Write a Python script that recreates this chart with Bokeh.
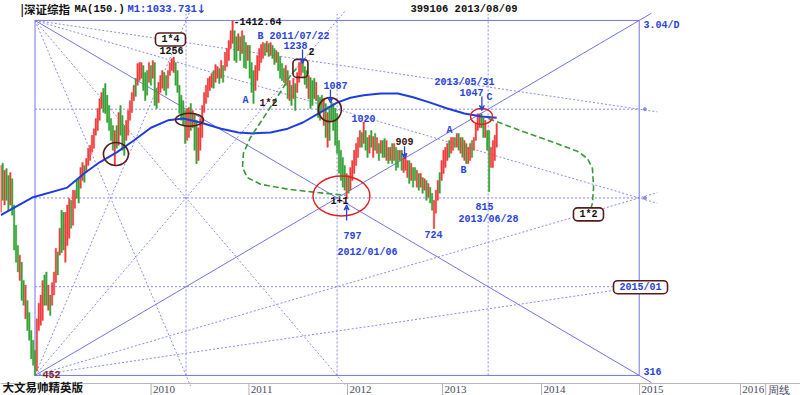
import numpy as np
from bokeh.plotting import figure
from bokeh.models import Range1d, Label, Arrow, VeeHead, ColumnDataSource
from bokeh.embed import file_html
from bokeh.resources import INLINE

# ---------------- data (weekly, trading-week index from mid 2008) ----------------
opens = [763, 893, 781, 878, 859, 781, 850, 781, 732, 686, 613, 650, 613, 542, 575, 553, 522, 506, 490, 459,
         522, 531, 539, 624, 630, 557, 585, 566, 585, 609, 672, 665, 768, 763, 650, 686, 702, 793, 732, 773,
         845, 850, 824, 845, 887, 867, 887, 901, 925, 937, 977, 992, 1025, 1065, 1136, 1154, 1111, 1075, 1031, 1008,
         887, 1008, 946, 1075, 1041, 1008, 961, 977, 1025, 1051, 1092, 1173, 1147, 1165, 1173, 1222, 1195, 1203, 1158, 1222,
         1173, 1234, 1136, 1085, 1121, 1136, 1195, 1184, 1136, 1184, 1203, 1195, 1234, 1203, 1147, 1111, 1092, 1058, 961, 970,
         1082, 1001, 1048, 1025, 901, 931, 970, 1051, 1082, 1104, 1128, 1139, 1203, 1158, 1173, 1211, 1173, 1222, 1203, 1218,
         1242, 1291, 1312, 1367, 1341, 1283, 1341, 1270, 1346, 1316, 1242, 1304, 1234, 1203, 1128, 1165, 1203, 1234, 1250, 1312,
         1275, 1312, 1262, 1304, 1291, 1234, 1275, 1258, 1230, 1211, 1147, 1203, 1092, 1147, 1099, 1154, 1121, 1158, 1184, 1238,
         1218, 1203, 1099, 1176, 1165, 1173, 1092, 1111, 1104, 1111, 1008, 1082, 940, 1065, 1087, 1082, 1065, 1048, 961, 931,
         910, 887, 797, 859, 819, 845, 864, 887, 910, 940, 986, 952, 992, 970, 922, 992, 910, 983, 922, 952,
         922, 961, 967, 901, 940, 901, 952, 901, 940, 931, 901, 931, 867, 873, 853, 901, 845, 881, 881, 827,
         864, 827, 853, 819, 845, 801, 827, 811, 724, 761, 793, 867, 845, 864, 881, 901, 961, 922, 931, 970,
         940, 983, 922, 970, 901, 952, 892, 901, 961, 931, 961, 992, 1001, 1047, 1034, 970, 992, 992, 881, 881,
         901, 940]
closes = [887, 793, 873, 793, 768, 867, 756, 676, 650, 630, 665, 575, 566, 604, 522, 506, 477, 467, 452, 542,
          570, 585, 613, 566, 566, 604, 548, 609, 630, 680, 624, 725, 670, 676, 763, 781, 798, 725, 819, 819,
          798, 786, 881, 895, 840, 907, 937, 946, 977, 998, 1031, 1065, 1099, 1121, 1051, 1048, 1018, 992, 961, 931,
          992, 937, 1051, 977, 931, 916, 1025, 1058, 1092, 1121, 1147, 1107, 1230, 1234, 1234, 1128, 1092, 1111, 1234, 1147,
          1242, 1075, 1065, 1158, 1184, 1203, 1128, 1111, 1203, 1234, 1250, 1256, 1147, 1121, 1048, 1025, 1008, 952, 1065, 1068,
          992, 1058, 931, 892, 1001, 1031, 1075, 1121, 1147, 1173, 1180, 1191, 1136, 1226, 1218, 1154, 1242, 1158, 1275, 1291,
          1325, 1367, 1412.64, 1242, 1234, 1354, 1242, 1367, 1214, 1211, 1304, 1173, 1121, 1082, 1222, 1262, 1291, 1308, 1316, 1262,
          1321, 1258, 1316, 1250, 1226, 1283, 1203, 1173, 1165, 1158, 1222, 1099, 1165, 1075, 1173, 1058, 1195, 1234, 1238, 1195,
          1150, 1136, 1184, 1065, 1075, 1099, 1158, 1034, 1025, 1058, 1099, 970, 1051, 961, 1025, 992, 946, 922, 865, 845,
          827, 819, 864, 811, 881, 901, 931, 952, 970, 992, 940, 1020, 931, 910, 977, 940, 973, 931, 970, 901,
          961, 910, 910, 961, 892, 940, 892, 952, 873, 881, 931, 873, 909, 922, 901, 837, 893, 827, 845, 873,
          819, 864, 811, 850, 793, 837, 786, 768, 793, 819, 845, 811, 901, 931, 940, 952, 910, 970, 970, 940,
          983, 931, 970, 910, 961, 892, 940, 952, 910, 970, 1015, 1047, 1047, 1001, 970, 1025, 931, 815, 940, 961,
          977, 1015]
weeks = list(range(len(opens)))

# 150-period moving average
ma_weeks = [0, 17, 35, 44, 52, 61, 70, 79, 88, 96, 105, 116, 125, 133, 142, 151, 159, 168, 177,
            184, 191, 200, 209, 217, 226, 235, 244, 253, 261]
ma_values = [756, 801, 826, 865, 896, 925, 961, 1001, 1025, 1031, 1018, 998, 986, 983, 986, 998, 1018,
             1051, 1085, 1102, 1111, 1117, 1117, 1104, 1085, 1065, 1048, 1038, 1033.731]

# Gann square: from the 2008 low to 2015/01 at the 2010 high
gann_start_week, gann_end_week = 18, 336
gann_low, gann_high = 452, 1412.64

# time axis (week index where each year starts)
year_labels = ["2010", "2011", "2012", "2013", "2014", "2015", "2016", "周线"]
year_starts = [79.1, 130.6, 182.5, 232.5, 284.6, 336.2, 389.3, 402.6]

# hand-drawn green projections (week, price)
curve1_weeks = [155.6, 152.5, 147.7, 138.3, 131.4, 127.7, 127.2, 129.8, 136.7, 150.9, 164.6, 181.4]
curve1_prices = [1211, 1184, 1128, 1034, 970, 922, 881, 853, 835, 822, 814, 806]
curve2_weeks = [256.7, 273.5, 290.9, 303.5, 308.8, 311.4, 312.0, 311.4, 309.8]
curve2_prices = [1031, 992, 955, 928, 907, 878, 827, 786, 759]

# ---------------- figure ----------------
W, H = 800, 395
XR = (-0.16, 420.9)
YR = (423.8, 1506.0)
p = figure(width=W, height=H, x_range=Range1d(*XR), y_range=Range1d(*YR),
           y_axis_type="log", x_axis_location=None, y_axis_location=None,
           toolbar_location=None, output_backend="svg", min_border=0)
p.grid.visible = False
p.outline_line_color = None
p.background_fill_color = "white"

def price_at(px_from_top):
    lt, lb = np.log(YR[1]), np.log(YR[0])
    return float(np.exp(lt - px_from_top / H * (lt - lb)))

BLUE = "#2a44d8"
GANN = "#7474e4"
DOT = "#8a8ae8"
DARK = "#5a1a1a"

# Gann geometry (computed from the square's corners, in log-price space)
L0, L1 = np.log(gann_low), np.log(gann_high)
def gx(f):
    return gann_start_week + f * (gann_end_week - gann_start_week)
def gy(f):
    return float(np.exp(L0 + f * (L1 - L0)))
def ext(a, b, k):
    return (a, (a[0] + k * (b[0] - a[0]), a[1] + k * (b[1] - a[1])))

solid = [((0, 0), (1, 0)), ((0, 1), (1, 1)), ((0, 0), (0, 1)), ((1, 0), (1, 1)),
         ext((0, 0), (1, 1), 1.02), ext((0, 1), (1, 0), 1.02)]
q = [0.25, 0.5, 0.75]
dotted = []
for f in q:
    dotted.append(((0, f), (1, f)))
    dotted.append(((f, 0), (f, 1.018)))
# Gann fan: 1x2, 1x4, 2x1, 4x1 from the top-left and bottom-left corners
for tgt in [(1, 0.75), (1, 0.5), (0.5, 0), (0.25, 0)]:
    dotted.append(ext((0, 1), tgt, 1.03))
for tgt in [(1, 0.25), (1, 0.5), (0.5, 1), (0.25, 1)]:
    dotted.append(ext((0, 0), tgt, 1.03))

def seg_src(lst):
    return dict(x0=[gx(a[0]) for a, b in lst], y0=[gy(a[1]) for a, b in lst],
                x1=[gx(b[0]) for a, b in lst], y1=[gy(b[1]) for a, b in lst])

p.segment(source=ColumnDataSource(seg_src(dotted)), x0="x0", y0="y0", x1="x1", y1="y1",
          line_color=DOT, line_width=1, line_dash="2 2")
p.segment(source=ColumnDataSource(seg_src(solid)), x0="x0", y0="y0", x1="x1", y1="y1",
          line_color=GANN, line_width=1)
p.scatter(x=[gx(1) + 3, gx(1) + 3], y=[gy(0.75), gy(0.5)], size=3, color=DOT)

# candles
tops = [max(o, c) for o, c in zip(opens, closes)]
bots = [min(o, c) for o, c in zip(opens, closes)]
cols = ["#f03c3c" if c >= o else "#36a336" for o, c in zip(opens, closes)]
p.vbar(x=weeks, width=0.8, top=tops, bottom=bots, fill_color=cols, line_color=cols, line_width=0.4)

# moving average
p.line(ma_weeks, ma_values, line_color="#1f3ee0", line_width=2)

# green projection curves
p.line(curve1_weeks, curve1_prices, line_color="#3a9a3a", line_width=1.6, line_dash="6 3")
p.line(curve2_weeks, curve2_prices, line_color="#3a9a3a", line_width=1.6, line_dash="6 3")

# ellipses / circles (week, price, screen size)
p.ellipse(x=[60.6, 99.3, 173.2], y=[920, 1027, 1061], width=[25, 28, 23], height=[23, 13, 24],
          width_units="screen", height_units="screen", fill_color=None, line_color=DARK, line_width=1.6)
p.ellipse(x=[179.3, 253.0], y=[804, 1038], width=[57, 22], height=[40, 16],
          width_units="screen", height_units="screen", fill_color=None, line_color="#e02020", line_width=1.4)
try:
    p.rect(x=[157.7], y=[1211], width=[15], height=[18], width_units="screen", height_units="screen",
           fill_color=None, line_color=DARK, line_width=1.6, border_radius=4)
except Exception:
    p.ellipse(x=[157.7], y=[1211], width=[15], height=[18], width_units="screen", height_units="screen",
              fill_color=None, line_color=DARK, line_width=1.6)

MONO = "Liberation Mono"

def lab(x, y, text, color=BLUE, align="center", size="10px", box=False):
    kw = {}
    if box:
        kw = dict(border_line_color=DARK, border_line_width=1.6, background_fill_color="white",
                  padding=dict(left=6, right=6, top=1, bottom=1), border_radius=4)
    p.add_layout(Label(x=x, y=y, text=text, text_color=color, text_font=MONO, text_font_size=size,
                       text_font_style="bold", text_align=align, text_baseline="middle", **kw))

lab(89.3, 1329, "1*4", color="#111111", box=True)
lab(309.3, 758, "1*2", color="#111111", box=True)
lab(336.7, 600, "2015/01", color=BLUE, box=True)

lab(89.8, 1283, "1256", color="#111111")
lab(122.5, 1408, "-1412.64", color="#111111", align="left")
lab(136.7, 1341, "B")
lab(157.2, 1341, "2011/07/22")
lab(155.1, 1304, "1238")
lab(163.5, 1279, "2", color="#111111")
lab(128.8, 1092, "A")
lab(140.9, 1082, "1*2", color="#3a1010")
lab(176.2, 1147, "1087")
lab(190.9, 1031, "1020")
lab(212.5, 958, "909", color="#3a1010")
lab(178.3, 793, "1+1", color="#111111")
lab(185.1, 709, "797")
lab(193.0, 671, "2012/01/06")
lab(227.7, 711, "724")
lab(236.2, 992, "A")
lab(243.5, 873, "B")
lab(254.6, 778, "815")
lab(256.7, 746, "2013/06/28")
lab(244.1, 1158, "2013/05/31")
lab(247.7, 1121, "1047")
lab(257.2, 1104, "C")
lab(338.3, 458, "316", align="left")
lab(22.0, 453, "452", color="#7a1a1a", align="left")
lab(338.3, 1390, "3.04/D", align="left")

# arrows
for xs, ys, ye in [(158.8, 1287, 1230), (173.5, 1132, 1085), (212.5, 943, 907), (182.0, 743, 781), (253.2, 1107, 1058)]:
    p.add_layout(Arrow(end=VeeHead(size=5, line_color=BLUE, line_width=1.2, fill_color=None),
                       x_start=xs, y_start=ys, x_end=xs, y_end=ye, line_color=BLUE, line_width=1.3))

# header
def head(x, text, color="#111111", font="Noto Sans CJK SC", size="11.5px"):
    p.add_layout(Label(x=x, y=H - 8, x_units="screen", y_units="screen", text=text, text_color=color,
                       text_font=font, text_font_size=size, text_font_style="bold", text_baseline="middle"))
head(20, "|深证综指")
head(74, "MA(150.)", font=MONO, size="10.5px")
head(127, "M1:1033.731", color=BLUE, font=MONO, size="10.5px")
head(196, "↓", color=BLUE, font="DejaVu Sans")
head(410, "399106 2013/08/09", font=MONO, size="10.5px")

# bottom time strip
strip_top, strip_bot = price_at(383), price_at(H)
p.segment(x0=[XR[0]], y0=[strip_top], x1=[XR[1]], y1=[strip_top], line_color="#b8b8b8", line_width=1)
p.segment(x0=year_starts, y0=[strip_top] * len(year_starts), x1=year_starts, y1=[strip_bot] * len(year_starts),
          line_color="#b0b0b0", line_width=1)
for s, t in zip(year_starts, year_labels):
    p.add_layout(Label(x=s + 1.0, y=6, y_units="screen", text=t, text_color="#4a4a66",
                       text_font="Liberation Serif", text_font_size="11px", text_baseline="middle"))
p.add_layout(Label(x=2, y=9, x_units="screen", y_units="screen", text="大文易帅精英版",
                   text_font="Noto Sans CJK SC", text_font_size="11.5px", text_font_style="bold",
                   text_color="#111111", text_baseline="middle"))

open("out.html", "w").write(file_html(p, INLINE))
